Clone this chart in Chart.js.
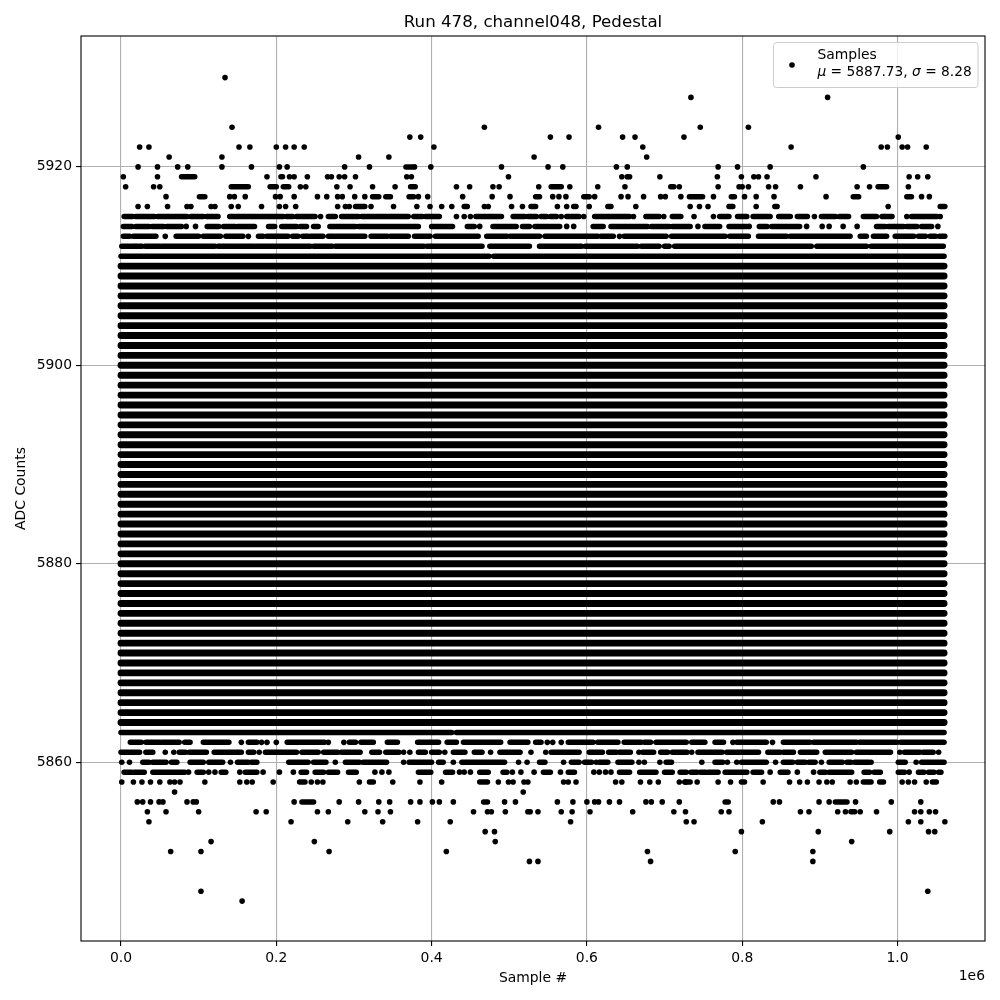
<!DOCTYPE html>
<html>
<head>
<meta charset="utf-8">
<title>Run 478, channel048, Pedestal</title>
<script src="https://cdn.jsdelivr.net/npm/chart.js@4/dist/chart.umd.min.js"></script>
<style>
  html, body { margin: 0; padding: 0; background: #fff; }
  canvas { display: block; }
</style>
</head>
<body>
<canvas id="pedestalChart" width="1000" height="1000"></canvas>
<script>
// x values are in thousands of samples; a pair is a run of overlapping dots, a number is one dot
const fullLevels = [5864, 5865, 5866, 5867, 5868, 5869, 5870, 5871, 5872, 5873, 5874, 5875, 5876, 5877, 5878, 5879,
    5880, 5881, 5882, 5883, 5884, 5885, 5886, 5887, 5888, 5889, 5890, 5891, 5892, 5893, 5894, 5895, 5896, 5897,
    5898, 5899, 5900, 5901, 5902, 5903, 5904, 5905, 5906, 5907, 5908, 5909, 5910];
const fullRun = [[0, 1060]];

const row5929 = [134];
const row5927 = [734, 910];
const row5924 = [143, 468, 615, 746, 808];
const row5923 = [372, 386, 553, 577, 646, 662, 725, 1001];
const row5922 = [24, 36, 152, 166, 200, 212, 223, 236, 403, 672, 863, 979, 987, 1006, 1013, 1037];
const row5921 = [62, 130, 306, 345, 532, 677];
const row5920 = [22, 47, 73, 86, 130, 168, 204, 214, 288, 320, [367, 375], 378, 399, 490, 550, 569, 638, 652, 769, 794, 836, 956];
const row5919 = [3, 47, [78, 95], 188, [206, 208], 217, 223, 240, 266, 271, 281, 288, 302, 368, 374, 499, 645, 652, 655, 694,
    768, 799, 815, 821, 832, 895, 1015, 1026, 1039];
const row5918 = [6, 42, 50, [142, 164], [192, 200], [209, 216], 231, 238, 278, 295, 324, 353, [373, 379], 432, 449, 479, 487, 538,
    [554, 567], 578, 614, 649, [708, 712], 719, 769, 796, 800, 808, 834, 843, 875, 948, 964, [975, 986], 1014];
const row5917 = [58, [101, 108], 140, 146, 160, 199, 205, 223, 253, 265, 279, 285, 301, 314, [324, 332], [341, 347], [371, 377], 383, 395,
    440, 478, 501, [534, 539], 556, 564, 573, [596, 603], 610, 644, 653, 673, 695, 701, 721, [732, 749], 763, [786, 790], 803, 818, 841,
    908, [943, 950], [1012, 1018], 1031, 1041];
const row5916 = [22, 34, 60, 85, 90, 116, 121, 142, 151, 181, 204, 212, 225, 279, 289, 294, [302, 314], 322, 351, 381, 398, 413, 426,
    [442, 446], 468, 473, 503, 517, [528, 534], 562, 574, [583, 586], 603, [627, 631], 663, 733, 745, 756, [783, 788], 818, [842, 845], 988, [1055, 1061]];
const row5915 = [[4, 15], [19, 43], [47, 85], [90, 106], [110, 125], [140, 177], [179, 209], [213, 221], [226, 250], 257, [267, 276], [284, 306],
    [310, 370], [377, 388], [392, 410], 432, 442, 450, [457, 490], [505, 520], [524, 535], [541, 548], [553, 561], 567, [574, 590], 596, [610, 655],
    660, [676, 693], 699, [710, 721], 738, 763, [771, 783], [794, 806], [814, 836], [847, 862], [871, 884], 893, [902, 920], [925, 937], [956, 973],
    [980, 993], 1012, [1018, 1051], 1055];
const row5914 = [[3, 14], [19, 36], [40, 55], [59, 78], 84, 96, [111, 126], [132, 147], [150, 172], [190, 198], [207, 226], [231, 239], [248, 254],
    [269, 302], [306, 383], [400, 427], [446, 455], 462, [479, 509], [517, 526], [533, 565], 574, 583, [608, 621], [631, 678], [683, 706], [710, 733],
    743, [752, 771], [783, 806], 809, [822, 832], [838, 874], 883, 903, 912, 930, 948, [973, 984], [988, 1008], [1012, 1025], [1031, 1044], 1052];
const row5913 = [[3, 11], [16, 26], [28, 45], 57, [71, 100], [106, 128], [135, 157], 164, [177, 183], [188, 215], [221, 228], [234, 241], [244, 260],
    [267, 275], [277, 314], [322, 343], [347, 370], [378, 398], [405, 460], [471, 497], [501, 539], [546, 614], [618, 634], 642, [648, 702], [709, 778],
    [784, 808], [821, 857], [862, 939], [952, 960], [969, 986], [997, 1021], [1027, 1036], [1042, 1049], [1054, 1061]];
const row5912 = [[1, 17], [18, 27], [31, 50], [52, 121], [125, 150], [152, 172], [174, 244], [248, 272], [276, 390], [394, 465], [475, 526], [539, 593], [598, 665],
    [670, 693], [700, 706], [713, 889], [896, 960], [966, 1059]];
const row5911 = [[0, 474], [480, 1060]];

const row5863 = [[0, 426], [432, 1060]];
const row5862 = [[12, 26], [32, 50], [52, 75], [82, 89], [106, 139], 155, [164, 175], 181, 188, 200, [214, 262], 267, 287, [294, 302], [309, 325],
    [343, 356], [382, 397], [398, 409], [420, 432], [441, 489], [501, 524], [534, 541], 549, 556, 567, [576, 608], [614, 640], [648, 670], [674, 682],
    [689, 715], [717, 728], [735, 752], [765, 776], 788, [793, 831], 839, [853, 887], [892, 947], [951, 999], [1004, 1060]];
const row5861 = [[0, 24], [32, 41], 57, 68, [75, 83], [88, 110], [120, 155], [164, 171], 178, [186, 226], [233, 254], [261, 279], [284, 308], [323, 333],
    [341, 358], 364, 372, [383, 392], [400, 410], 417, [428, 443], [455, 465], 476, [488, 514], 528, 547, [554, 590], [603, 620], [628, 638], [642, 656],
    667, [672, 686], [695, 704], [710, 729], 735, [743, 774], [780, 821], [833, 849], [853, 866], [875, 896], [907, 941], [947, 991], 1003, [1009, 1029],
    [1033, 1046], 1053];
const row5860 = [1, 11, [28, 36], [41, 58], [65, 72], [89, 106], [113, 131], 141, [150, 164], [168, 175], [216, 241], [248, 264], 276, [289, 307], [312, 342],
    364, [371, 400], [409, 415], 428, [439, 494], 512, 523, [539, 546], 570, [580, 590], [597, 606], 612, [616, 627], [640, 658], 667, 674, 694, [702, 709],
    748, [765, 775], 781, 793, [799, 831], 843, [853, 865], [871, 881], [886, 894], 902, [912, 929], [935, 940], [945, 963], 966, [1001, 1010], 1024, [1031, 1060]];
const row5859 = [[4, 14], [17, 30], [41, 82], 87, [98, 106], 113, 121, [129, 135], 153, [160, 175], 183, 204, 222, [232, 239], [250, 261], [267, 279],
    [293, 303], 327, 336, 345, [383, 399], [418, 427], 436, 442, 450, [462, 473], [492, 497], 504, 515, 532, [544, 553], 566, [576, 584], 609, 616, 624, 631,
    [642, 655], [668, 689], [700, 710], [720, 728], [734, 742], [746, 753], [756, 769], [778, 806], [814, 825], 836, [849, 859], 871, 892, [900, 907],
    [912, 941], [957, 964], [970, 978], [1001, 1009], 1015, [1027, 1034], [1040, 1047], [1053, 1056]];
const row5858 = [1, 16, 27, 38, 50, 63, 69, 76, 108, 153, 162, 169, 196, [230, 237], 245, 253, 260, 307, [320, 325], 350, 385, 413, [462, 472], 486, 499,
    505, 519, 524, 570, 576, 586, 637, 645, 669, 681, 692, 719, 727, [726, 733], 742, 769, 785, [799, 803], 827, 861, 874, 884, 899, 909, 916, 939, 947,
    [956, 966], [977, 982], 1006, 1014, 1022, 1037, [1045, 1050]];
const row5857 = [69, 518];
const row5856 = [21, 28, 38, 49, 54, 85, 93, 97, 223, [233, 248], 281, 306, 332, 346, 373, 385, 401, 410, 428, [467, 472], 494, 508, 562, 582, 600, 610, 615,
    629, 642, 676, 683, 697, 719, [778, 782], 840, 848, 899, 912, [920, 935], 946, 992, 1030];
const row5855 = [34, 58, 100, 174, 187, 253, 267, 314, 331, 347, 454, 472, 477, 495, 524, 527, 537, 567, 581, 604, 659, 712, 727, 773, 783, 875, 886, 923, 933,
    [940, 945], 952, 973, 1022, 1030, 1041, 1049];
const row5854 = [36, 219, 292, 337, 382, 424, 579, 728, 738, 826, 1014, 1030, 1061];
const row5853 = [469, 481, 799, 898, 990, 1040, 1048];
const row5852 = [116, 249, 482, 941];
const row5851 = [64, 103, 268, 419, 678, 791, 891];
const row5850 = [526, 537, 682, 891];
const row5847 = [103, 1039];
const row5846 = [156];

const partialLevels = [5929, 5927, 5924, 5923, 5922, 5921, 5920, 5919, 5918, 5917, 5916, 5915, 5914, 5913, 5912, 5911,
    5863, 5862, 5861, 5860, 5859, 5858, 5857, 5856, 5855, 5854, 5853, 5852, 5851, 5850, 5847, 5846];
const partialRows = [row5929, row5927, row5924, row5923, row5922, row5921, row5920, row5919, row5918, row5917, row5916, row5915, row5914, row5913, row5912, row5911,
    row5863, row5862, row5861, row5860, row5859, row5858, row5857, row5856, row5855, row5854, row5853, row5852, row5851, row5850, row5847, row5846];

const xTicks = [0, 200000, 400000, 600000, 800000, 1000000];
const yTicks = [5860, 5880, 5900, 5920];
const legendName = 'Samples';
const legendStats = [['μ', true], [' = 5887.73, ', false], ['σ', true], [' = 8.28', false]];

// split rows into line pieces and lone dots
const fullPoints = [];
const runPoints = [];
const dotPoints = [];

function addRow(level, row, lines) {
    row.forEach(item => {
        if (Array.isArray(item)) {
            lines.push({ x: item[0] * 1000, y: level }, { x: item[1] * 1000, y: level }, { x: item[1] * 1000, y: null });
        } else {
            dotPoints.push({ x: item * 1000, y: level });
        }
    });
}

fullLevels.forEach(level => addRow(level, fullRun, fullPoints));
partialLevels.forEach((level, i) => addRow(level, partialRows[i], runPoints));

const fontFamily = '"DejaVu Sans", sans-serif';

// matplotlib style frame, legend box and the 1e6 offset label
const extrasPlugin = {
    id: 'extras',
    afterDatasetsDraw(chart) {
        const ctx = chart.ctx;
        const area = chart.chartArea;
        ctx.save();
        ctx.strokeStyle = '#000';
        ctx.lineWidth = 1.1;
        ctx.strokeRect(area.left, area.top, area.right - area.left, area.bottom - area.top);

        ctx.beginPath();
        ctx.roundRect(773.5, 42.5, 204.5, 45, 3);
        ctx.fillStyle = 'rgba(255,255,255,0.8)';
        ctx.fill();
        ctx.strokeStyle = '#cccccc';
        ctx.lineWidth = 1;
        ctx.stroke();

        ctx.beginPath();
        ctx.arc(792, 65, 2.8, 0, Math.PI * 2);
        ctx.fillStyle = '#000';
        ctx.fill();

        ctx.textBaseline = 'alphabetic';
        ctx.textAlign = 'left';
        ctx.font = '13.9px ' + fontFamily;
        ctx.fillText(legendName, 817.5, 59);
        let x = 817.5;
        legendStats.forEach(part => {
            ctx.font = (part[1] ? 'italic ' : '') + '13.75px ' + fontFamily;
            ctx.fillText(part[0], x, 76);
            x += ctx.measureText(part[0]).width;
        });

        ctx.font = '13.9px ' + fontFamily;
        ctx.textAlign = 'right';
        ctx.fillText('1e6', 985, 980);
        ctx.restore();
    }
};

new Chart(document.getElementById('pedestalChart'), {
    type: 'scatter',
    data: {
        datasets: [
            {
                label: 'Samples',
                data: fullPoints,
                showLine: true,
                spanGaps: false,
                pointRadius: 0,
                borderColor: '#000',
                borderWidth: 6.9,
                borderCapStyle: 'round',
                tension: 0
            },
            {
                label: 'Samples (runs)',
                data: runPoints,
                showLine: true,
                spanGaps: false,
                pointRadius: 0,
                borderColor: '#000',
                borderWidth: 5.5,
                borderCapStyle: 'round',
                tension: 0
            },
            {
                label: 'Samples (single)',
                data: dotPoints,
                pointRadius: 2.8,
                pointBorderWidth: 0,
                backgroundColor: '#000',
                borderColor: '#000'
            }
        ]
    },
    options: {
        responsive: false,
        animation: false,
        layout: { padding: { left: 0, right: 15, top: 0, bottom: 0 } },
        plugins: {
            legend: { display: false },
            tooltip: { enabled: false },
            title: {
                display: true,
                text: 'Run 478, channel048, Pedestal',
                color: '#000',
                fullSize: false,
                font: { family: fontFamily, size: 16.67, weight: 'normal' },
                padding: { top: 13, bottom: 3 }
            }
        },
        scales: {
            x: {
                type: 'linear',
                min: -51500,
                max: 1112700,
                afterFit(scale) { scale.height = 59; },
                afterBuildTicks(scale) { scale.ticks = xTicks.map(value => ({ value })); },
                border: { display: false },
                grid: { color: '#b0b0b0', lineWidth: 1.1, tickColor: '#000', tickLength: 5 },
                ticks: {
                    autoSkip: false,
                    maxRotation: 0,
                    color: '#000',
                    padding: 4,
                    font: { family: fontFamily, size: 13.9 },
                    callback: value => (value / 1000000).toFixed(1)
                },
                title: {
                    display: true,
                    text: 'Sample #',
                    color: '#000',
                    font: { family: fontFamily, size: 13.9 },
                    padding: { top: 2, bottom: 13 }
                }
            },
            y: {
                type: 'linear',
                min: 5841.98,
                max: 5933.19,
                afterFit(scale) { scale.width = 81; },
                afterBuildTicks(scale) { scale.ticks = yTicks.map(value => ({ value })); },
                border: { display: false },
                grid: { color: '#b0b0b0', lineWidth: 1.1, tickColor: '#000', tickLength: 5 },
                ticks: {
                    autoSkip: false,
                    color: '#000',
                    padding: 4,
                    font: { family: fontFamily, size: 13.9 },
                    callback: value => String(value)
                },
                title: {
                    display: true,
                    text: 'ADC Counts',
                    color: '#000',
                    font: { family: fontFamily, size: 13.9 },
                    padding: { top: 13, bottom: 0 }
                }
            }
        }
    },
    plugins: [extrasPlugin]
});
</script>
</body>
</html>
